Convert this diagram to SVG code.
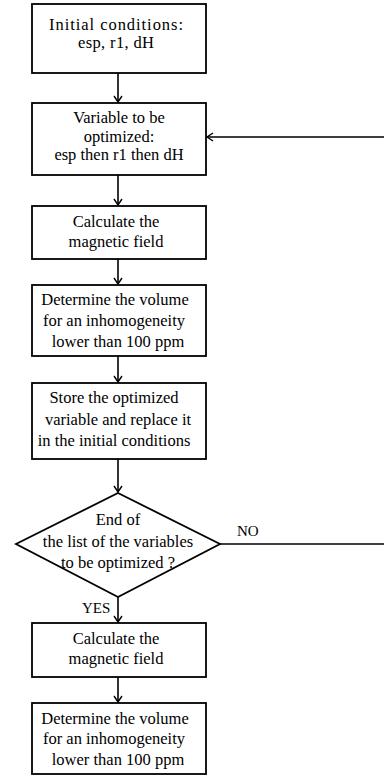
<svg xmlns="http://www.w3.org/2000/svg" width="384" height="778" viewBox="0 0 384 778">
<style>
.box{fill:#fff;stroke:#000;stroke-width:1.8}
.t{font-family:'Liberation Serif','Times New Roman','DejaVu Serif',serif;font-size:16.5px;fill:#000;text-anchor:middle}
.lbl{font-family:'Liberation Serif','Times New Roman','DejaVu Serif',serif;font-size:15px;fill:#000}
.c{fill:none;stroke:#000;stroke-width:1.6}
</style>
<defs>
<marker id="ah" markerWidth="12" markerHeight="12" refX="7" refY="6" orient="auto" markerUnits="userSpaceOnUse">
<path d="M1,2 L7,6 L1,10" fill="none" stroke="#000" stroke-width="1.4"/>
</marker>
</defs>
<g id="connectors">
<line class="c" x1="118" y1="73" x2="118" y2="102" marker-end="url(#ah)"/>
<line class="c" x1="118" y1="175" x2="118" y2="205" marker-end="url(#ah)"/>
<line class="c" x1="118" y1="259" x2="118" y2="284" marker-end="url(#ah)"/>
<line class="c" x1="118" y1="356" x2="118" y2="382" marker-end="url(#ah)"/>
<line class="c" x1="118" y1="459" x2="118" y2="492" marker-end="url(#ah)"/>
<line class="c" x1="118" y1="597" x2="118" y2="622" marker-end="url(#ah)"/>
<line class="c" x1="118" y1="677" x2="118" y2="702" marker-end="url(#ah)"/>
<path class="c" d="M220,544 H388 V137 H207" marker-end="url(#ah)"/>
<text class="lbl" x="237" y="536">NO</text>
<text class="lbl" x="82" y="613">YES</text>
</g>
<g id="n1">
<rect class="box" x="32" y="4" width="174" height="69"/>
<text class="t" x="116" y="30" textLength="134" lengthAdjust="spacing">Initial conditions:</text>
<text class="t" x="116" y="48" textLength="76" lengthAdjust="spacing">esp, r1, dH</text>
</g>
<g id="n2">
<rect class="box" x="32" y="103" width="174" height="72"/>
<text class="t" x="119" y="123">Variable to be</text>
<text class="t" x="119" y="142">optimized:</text>
<text class="t" x="119" y="160">esp then r1 then dH</text>
</g>
<g id="n3">
<rect class="box" x="32" y="206" width="174" height="53"/>
<text class="t" x="116" y="227">Calculate the</text>
<text class="t" x="116" y="247">magnetic field</text>
</g>
<g id="n4">
<rect class="box" x="32" y="285" width="174" height="71"/>
<text class="t" x="115" y="305">Determine the volume</text>
<text class="t" x="114" y="326">for an inhomogeneity</text>
<text class="t" x="118" y="347">lower than 100 ppm</text>
</g>
<g id="n5">
<rect class="box" x="32" y="383" width="174" height="76"/>
<text class="t" x="114" y="403">Store the optimized</text>
<text class="t" x="118" y="425">variable and replace it</text>
<text class="t" x="114" y="446">in the initial conditions</text>
</g>
<g id="n6">
<polygon class="box" points="118,493 220,544 118,597 16,544"/>
<text class="t" x="118" y="525">End of</text>
<text class="t" x="118" y="547">the list of the variables</text>
<text class="t" x="118" y="568">to be optimized ?</text>
</g>
<g id="n7">
<rect class="box" x="32" y="623" width="174" height="54"/>
<text class="t" x="116" y="644">Calculate the</text>
<text class="t" x="116" y="664">magnetic field</text>
</g>
<g id="n8">
<rect class="box" x="32" y="703" width="174" height="71"/>
<text class="t" x="115" y="724">Determine the volume</text>
<text class="t" x="114" y="744">for an inhomogeneity</text>
<text class="t" x="118" y="765">lower than 100 ppm</text>
</g>
</svg>
